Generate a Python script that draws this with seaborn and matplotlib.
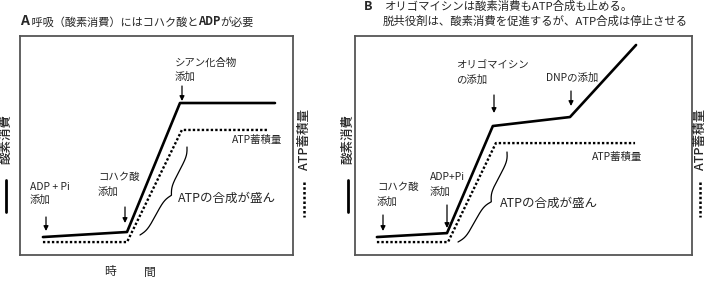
import numpy as np
import pandas as pd
import matplotlib
matplotlib.use("Agg")
import matplotlib.pyplot as plt
import seaborn as sns

# ---------------- data (time, arbitrary units 0-100) ----------------
a_o2_time = [8.4, 39.2, 58.6, 93.4]
a_o2_level = [8.2, 10.5, 69.4, 69.4]
a_atp_time = [8.4, 39.2, 59.3, 90.8]
a_atp_level = [5.9, 5.9, 57.1, 57.1]

b_o2_time = [6.5, 27.3, 40.9, 63.8, 83.4]
b_o2_level = [8.2, 10.0, 58.9, 63.0, 95.9]
b_atp_time = [6.5, 27.6, 41.8, 83.1]
b_atp_level = [5.9, 5.9, 51.1, 51.1]

title_a = ["A", "呼吸（酸素消費）にはコハク酸と", "ADP", "が必要"]
title_b1 = "オリゴマイシンは酸素消費もATP合成も止める。"
title_b2 = "脱共役剤は、酸素消費を促進するが、ATP合成は停止させる"
o2_label = "酸素消費"
atp_label = "ATP蓄積量"
synth_label = "ATPの合成が盛ん"

sns.set_theme(style="white")
plt.rcParams["font.family"] = ["Noto Sans CJK JP", "DejaVu Sans"]

W, H = 711, 285
fig = plt.figure(figsize=(W / 100, H / 100), dpi=100)


def panel(x0, y0, x1, y1):
    return fig.add_axes([x0 / W, 1 - y1 / H, (x1 - x0) / W, (y1 - y0) / H])


axA = panel(20, 36, 293, 255)
axB = panel(355, 36, 692, 255)

SOLID = dict(color="black", linewidth=1.9)
DOT = dict(color="black", linewidth=1.7, linestyle=(0, (1, 0.9)))

for ax, (ot, ol, at, al) in [
    (axA, (a_o2_time, a_o2_level, a_atp_time, a_atp_level)),
    (axB, (b_o2_time, b_o2_level, b_atp_time, b_atp_level)),
]:
    df_o2 = pd.DataFrame({"time": ot, "level": ol})
    df_atp = pd.DataFrame({"time": at, "level": al})
    sns.lineplot(data=df_o2, x="time", y="level", ax=ax, sort=False, **SOLID)
    sns.lineplot(data=df_atp, x="time", y="level", ax=ax, sort=False, **DOT)
    ax.set_xlim(0, 100)
    ax.set_ylim(0, 100)
    ax.set_xticks([])
    ax.set_yticks([])
    ax.set_xlabel("")
    ax.set_ylabel("")
    for s in ax.spines.values():
        s.set_color("#555555")
        s.set_linewidth(1.3)

# ---------------- overlay in pixel coordinates ----------------
ov = fig.add_axes([0, 0, 1, 1])
ov.set_xlim(0, W)
ov.set_ylim(H, 0)
ov.axis("off")

LBL = 7.5


def txt(x, y, s, size=LBL, **kw):
    ov.text(x, y, s, fontsize=size, ha=kw.pop("ha", "left"), va=kw.pop("va", "center"), **kw)


def arrow(x, y0, y1):
    ov.annotate("", xy=(x, y1), xytext=(x, y0),
                arrowprops=dict(arrowstyle="-|>", color="black", lw=0.9,
                                mutation_scale=7, shrinkA=0, shrinkB=0))


def brace(p0, p1, depth, beta=0.25, n=150):
    p0 = np.array(p0, float)
    p1 = np.array(p1, float)
    L = np.linalg.norm(p1 - p0)
    u = (p1 - p0) / L
    nv = np.array([u[1], -u[0]])
    if nv[0] < 0:
        nv = -nv
    xh = np.linspace(0, L / 2, n)
    yh = 1 / (1 + np.exp(-beta * (xh - xh[0]))) + 1 / (1 + np.exp(-beta * (xh - xh[-1])))
    xs = np.concatenate([xh, L - xh[::-1]])
    ys = np.concatenate([yh, yh[::-1]]) - 0.5
    pts = p0[None, :] + xs[:, None] * u[None, :] + depth * ys[:, None] * nv[None, :]
    ov.plot(pts[:, 0], pts[:, 1], color="black", lw=0.9)


# titles
tA = ov.text(20, 21, title_a[0], fontsize=10, fontweight="bold", va="center", ha="left")
t1 = ov.annotate(" " + title_a[1], xy=(1, 0), xycoords=tA, fontsize=8, va="bottom", ha="left")
t2 = ov.annotate(title_a[2], xy=(1, 0), xycoords=t1, fontsize=8, fontweight="bold", va="bottom", ha="left")
ov.annotate(title_a[3], xy=(1, 0), xycoords=t2, fontsize=8, va="bottom", ha="left")

ov.text(368, 6, "B", fontsize=9, fontweight="bold", va="center", ha="center")
ov.text(385, 6, title_b1, fontsize=8.2, va="center", ha="left")
ov.text(383, 21, title_b2, fontsize=8.2, va="center", ha="left")

# side labels / legend keys
for x, lab, style in [(6, o2_label, "solid"), (304, atp_label, "dot"),
                      (348, o2_label, "solid"), (700, atp_label, "dot")]:
    ov.text(x, 139, lab, fontsize=9, fontweight="medium", rotation=90, ha="center", va="center")
    if style == "solid":
        ov.plot([x, x], [180, 212], color="black", lw=2)
    else:
        ov.plot([x, x], [182, 217], color="black", lw=1.8, ls=(0, (1, 0.9)))

# panel A annotations
txt(30, 187, "ADP + Pi")
txt(30, 200, "添加")
arrow(46, 217, 231)
txt(98, 177, "コハク酸")
txt(98, 192, "添加")
arrow(125, 207, 223)
txt(175, 63, "シアン化合物")
txt(175, 77, "添加")
arrow(182, 86, 101)
txt(232, 140, atp_label)
txt(178, 198, synth_label, size=9)
brace((187, 147), (140, 235), 9)

# panel B annotations
txt(377, 187, "コハク酸")
txt(377, 202, "添加")
arrow(383, 215, 231)
txt(430, 177, "ADP+Pi")
txt(430, 192, "添加")
arrow(447, 205, 228)
txt(456, 65, "オリゴマイシン")
txt(456, 80, "の添加")
arrow(494, 95, 113)
txt(546, 78, "DNPの添加")
arrow(571, 91, 106)
txt(592, 157, atp_label)
txt(500, 203, synth_label, size=9)
brace((507, 152), (458, 242), 10)

# time label
txt(110, 272, "時", size=8.5, ha="center")
txt(150, 272, "間", size=8.5, ha="center")

fig.savefig("out.png", dpi=100)
